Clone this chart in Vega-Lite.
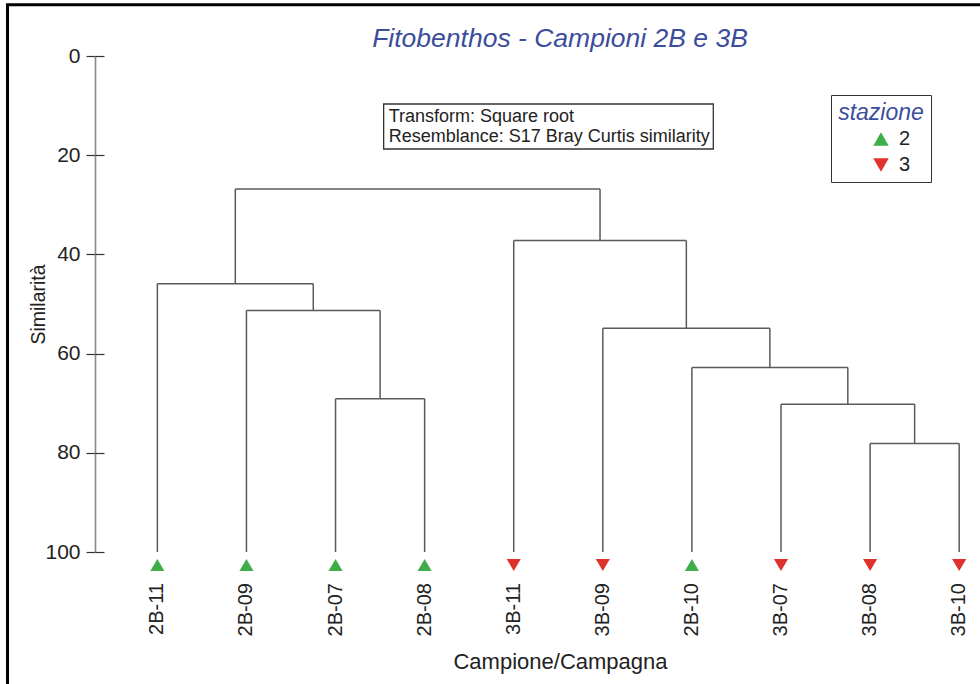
{
  "$schema": "https://vega.github.io/schema/vega-lite/v6.json",
  "width": 882,
  "height": 496,
  "autosize": {"type": "none"},
  "padding": {"left": 95, "top": 56, "right": 3, "bottom": 132},
  "background": "white",
  "config": {
    "view": {"stroke": null},
    "font": "Liberation Sans",
    "axisX": {
      "orient": "bottom",
      "labels": false,
      "ticks": false,
      "domain": false,
      "grid": false,
      "titleFontSize": 22,
      "titleFontWeight": "normal",
      "titleColor": "#222222",
      "titleX": 465,
      "titleY": 116,
      "titleAlign": "center",
      "titleBaseline": "alphabetic"
    },
    "legend": {
      "orient": "none",
      "legendX": 736,
      "legendY": 39,
      "strokeColor": "#333333",
      "padding": 7,
      "titleFontSize": 23,
      "titleFontStyle": "italic",
      "titleFontWeight": "normal",
      "titleColor": "#3b4d9c",
      "titleAnchor": "middle",
      "titlePadding": 4,
      "labelFontSize": 20,
      "labelColor": "#222222",
      "symbolSize": 240,
      "symbolOffset": 20,
      "labelOffset": 8,
      "rowPadding": 6,
      "symbolStrokeWidth": 0
    }
  },
  "title": {
    "text": "Fitobenthos - Campioni 2B e 3B",
    "fontSize": 26.5,
    "fontStyle": "italic",
    "fontWeight": "normal",
    "color": "#3b4d9c",
    "anchor": "middle",
    "dx": 24,
    "dy": 70,
    "baseline": "alphabetic",
    "offset": 0
  },
  "datasets": {
    "merges": [
      {"nodo": "A", "xl": 2, "xr": 3, "h": 69.1, "hl": 100, "hr": 100},
      {"nodo": "B", "xl": 1, "xr": 2.5, "h": 51.3, "hl": 100, "hr": 69.1},
      {"nodo": "C", "xl": 0, "xr": 1.75, "h": 45.9, "hl": 100, "hr": 51.3},
      {"nodo": "D", "xl": 8, "xr": 9, "h": 78.1, "hl": 100, "hr": 100},
      {"nodo": "E", "xl": 7, "xr": 8.5, "h": 70.2, "hl": 100, "hr": 78.1},
      {"nodo": "F", "xl": 6, "xr": 7.75, "h": 62.8, "hl": 100, "hr": 70.2},
      {"nodo": "G", "xl": 5, "xr": 6.875, "h": 54.9, "hl": 100, "hr": 62.8},
      {"nodo": "H", "xl": 4, "xr": 5.9375, "h": 37.2, "hl": 100, "hr": 54.9},
      {"nodo": "R", "xl": 0.875, "xr": 4.96875, "h": 26.8, "hl": 45.9, "hr": 37.2}
    ],
    "leaves": [
      {"campione": "2B-11", "pos": 0, "stazione": "2"},
      {"campione": "2B-09", "pos": 1, "stazione": "2"},
      {"campione": "2B-07", "pos": 2, "stazione": "2"},
      {"campione": "2B-08", "pos": 3, "stazione": "2"},
      {"campione": "3B-11", "pos": 4, "stazione": "3"},
      {"campione": "3B-09", "pos": 5, "stazione": "3"},
      {"campione": "2B-10", "pos": 6, "stazione": "2"},
      {"campione": "3B-07", "pos": 7, "stazione": "3"},
      {"campione": "3B-08", "pos": 8, "stazione": "3"},
      {"campione": "3B-10", "pos": 9, "stazione": "3"}
    ],
    "note": [
      {"riga": "Transform: Square root", "x": 2.596, "y": 13.31},
      {"riga": "Resemblance: S17 Bray Curtis similarity", "x": 2.596, "y": 17.34}
    ],
    "notebox": [{"x": 2.54, "x2": 6.24, "y": 9.68, "y2": 18.75}],
    "frame": [{"x": -1.682, "x2": 12, "y": -10.32, "y2": 140}]
  },
  "resolve": {"axis": {"y": "independent"}},
  "layer": [
    {
      "data": {"name": "merges"},
      "mark": {"type": "rule", "color": "#5a5a5a", "strokeWidth": 1.5},
      "encoding": {
        "x": {"field": "xl", "type": "quantitative", "title": "Campione/Campagna", "scale": {"domain": [-0.7, 9.2], "nice": false, "zero": false}},
        "x2": {"field": "xr"},
        "y": {
          "field": "h", "type": "quantitative",
          "scale": {"domain": [0, 100], "reverse": true, "nice": false, "zero": false},
          "axis": {
            "orient": "left",
            "title": "Similarità",
            "values": [0, 20, 40, 60, 80, 100],
            "grid": false,
            "tickSize": 9, "tickColor": "#333333", "tickWidth": 1.2,
            "domainColor": "#888888", "domainWidth": 1.6,
            "labelFontSize": 21, "labelColor": "#222222", "labelPadding": 6,
            "titleFontSize": 19.5, "titleFontWeight": "normal", "titleColor": "#222222",
            "titleX": -57, "titleY": 248, "titleAngle": 270, "titleAlign": "center", "titleBaseline": "middle"
          }
        }
      }
    },
    {
      "data": {"name": "merges"},
      "mark": {"type": "rule", "color": "#5a5a5a", "strokeWidth": 1.5},
      "encoding": {
        "x": {"field": "xl", "type": "quantitative", "title": "Campione/Campagna", "scale": {"domain": [-0.7, 9.2], "nice": false, "zero": false}},
        "y": {
          "field": "hl", "type": "quantitative",
          "scale": {"domain": [0, 100], "reverse": true, "nice": false, "zero": false},
          "axis": {
            "orient": "left", "title": null, "values": [0, 20, 40, 60, 80, 100],
            "grid": false, "labels": false, "domain": false,
            "tickSize": -9, "tickColor": "#333333", "tickWidth": 1.2
          }
        },
        "y2": {"field": "h"}
      }
    },
    {
      "data": {"name": "merges"},
      "mark": {"type": "rule", "color": "#5a5a5a", "strokeWidth": 1.5},
      "encoding": {
        "x": {"field": "xr", "type": "quantitative", "title": "Campione/Campagna", "scale": {"domain": [-0.7, 9.2], "nice": false, "zero": false}},
        "y": {"field": "hr", "type": "quantitative", "scale": {"domain": [0, 100], "reverse": true, "nice": false, "zero": false}, "axis": null},
        "y2": {"field": "h"}
      }
    },
    {
      "data": {"name": "leaves"},
      "mark": {"type": "point", "filled": true, "opacity": 1, "size": 200, "strokeWidth": 0, "yOffset": 13},
      "encoding": {
        "x": {"field": "pos", "type": "quantitative", "title": "Campione/Campagna", "scale": {"domain": [-0.7, 9.2], "nice": false, "zero": false}},
        "y": {"datum": 100, "type": "quantitative", "scale": {"domain": [0, 100], "reverse": true, "nice": false, "zero": false}, "axis": null},
        "shape": {"field": "stazione", "type": "nominal", "title": "stazione", "scale": {"domain": ["2", "3"], "range": ["triangle-up", "triangle-down"]}},
        "color": {"field": "stazione", "type": "nominal", "title": "stazione", "scale": {"domain": ["2", "3"], "range": ["#3fae49", "#e0322d"]}}
      }
    },
    {
      "data": {"name": "leaves"},
      "mark": {"type": "text", "angle": 270, "align": "right", "baseline": "middle", "fontSize": 20, "color": "#222222", "yOffset": 31},
      "encoding": {
        "x": {"field": "pos", "type": "quantitative", "title": "Campione/Campagna", "scale": {"domain": [-0.7, 9.2], "nice": false, "zero": false}},
        "y": {"datum": 100, "type": "quantitative", "scale": {"domain": [0, 100], "reverse": true, "nice": false, "zero": false}, "axis": null},
        "text": {"field": "campione"}
      }
    },
    {
      "data": {"name": "notebox"},
      "mark": {"type": "rect", "fill": "white", "stroke": "#333333", "strokeWidth": 1.3},
      "encoding": {
        "x": {"field": "x", "type": "quantitative", "title": "Campione/Campagna", "scale": {"domain": [-0.7, 9.2], "nice": false, "zero": false}},
        "x2": {"field": "x2"},
        "y": {"field": "y", "type": "quantitative", "scale": {"domain": [0, 100], "reverse": true, "nice": false, "zero": false}, "axis": null},
        "y2": {"field": "y2"}
      }
    },
    {
      "data": {"name": "note"},
      "mark": {"type": "text", "align": "left", "baseline": "alphabetic", "fontSize": 18, "color": "#222222"},
      "encoding": {
        "x": {"field": "x", "type": "quantitative", "title": "Campione/Campagna", "scale": {"domain": [-0.7, 9.2], "nice": false, "zero": false}},
        "y": {"field": "y", "type": "quantitative", "scale": {"domain": [0, 100], "reverse": true, "nice": false, "zero": false}, "axis": null},
        "text": {"field": "riga"}
      }
    },
    {
      "data": {"name": "frame"},
      "mark": {"type": "rect", "fill": null, "fillOpacity": 0, "stroke": "black", "strokeWidth": 3},
      "encoding": {
        "x": {"field": "x", "type": "quantitative", "title": "Campione/Campagna", "scale": {"domain": [-0.7, 9.2], "nice": false, "zero": false}},
        "x2": {"field": "x2"},
        "y": {"field": "y", "type": "quantitative", "scale": {"domain": [0, 100], "reverse": true, "nice": false, "zero": false}, "axis": null},
        "y2": {"field": "y2"}
      }
    }
  ]
}
